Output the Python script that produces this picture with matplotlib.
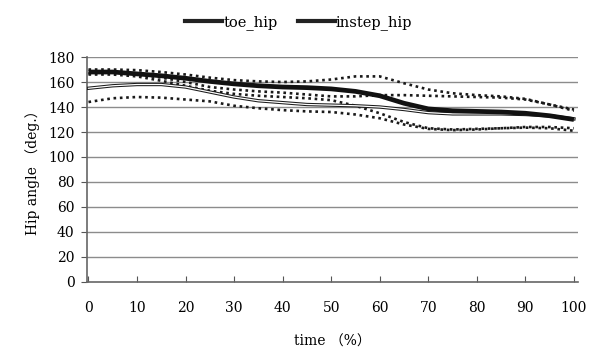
import matplotlib
matplotlib.use("Agg")
import matplotlib.pyplot as plt

# time (%) sampled every 5
time = [0, 5, 10, 15, 20, 25, 30, 35, 40, 45, 50, 55, 60, 65, 70, 75, 80, 85, 90, 95, 100]

# instep_hip mean and +/- SD (dotted)
instep_mean = [168, 168, 166.5, 165, 163, 160.5, 158.5, 157, 156, 155.5, 154.5, 152.5, 149,
               143, 138.5, 137, 136.5, 136, 135, 133, 130]
instep_upper = [170, 170, 169.5, 168, 166, 163.5, 161.5, 160.5, 160, 160.5, 162, 164.5, 164.5,
                159, 154, 151, 149.5, 148.5, 146.5, 142, 138]
instep_lower = [166, 166, 164.5, 161, 157, 153, 150.5, 149, 148, 147, 145.5, 141, 135,
                128, 123, 122, 122.5, 123, 123.5, 123, 121]

# toe_hip mean and +/- SD (dotted)
toe_mean = [155, 157, 158, 158, 156, 152, 148, 145, 143.5, 142, 141.5, 141, 140,
            138, 135.5, 134.5, 134.5, 134.5, 134, 133, 130.5]
toe_upper = [167, 167.5, 166, 163.5, 160, 156, 154, 152.5, 151.5, 150, 148.5, 148.5, 149.5,
             149.5, 149, 148.5, 148, 147.5, 146, 142, 137]
toe_lower = [144, 147, 148, 147.5, 146, 144.5, 141, 139, 137.5, 136.5, 136, 134, 131,
             126, 122.5, 121.5, 122, 123, 124, 124, 123]

yticks = list(range(0, 181, 20))
xticks = list(range(0, 101, 10))

plt.rcParams['font.family'] = ['DejaVu Serif', 'Noto Sans CJK JP']

fig = plt.figure(figsize=(5.92, 3.52), dpi=100)
ax = fig.add_axes([0.147, 0.199, 0.829, 0.639])

grid_col = '#8c8c8c'
for y in yticks[1:]:
    ax.axhline(y, color=grid_col, linewidth=1.0, zorder=1)

dot = dict(color='#1a1a1a', linewidth=1.9, linestyle=(0, (1, 1.4)), dash_capstyle='butt', zorder=3)
ax.plot(time, instep_upper, **dot)
ax.plot(time, instep_lower, **dot)
ax.plot(time, toe_upper, **dot)
ax.plot(time, toe_lower, **dot)

# toe_hip mean drawn as a double (outlined) line
ax.plot(time, toe_mean, color='#1a1a1a', linewidth=2.4, zorder=4)
ax.plot(time, toe_mean, color='white', linewidth=0.9, zorder=5)

ax.plot(time, instep_mean, color='#111111', linewidth=3.4, solid_capstyle='butt', zorder=6)

ax.set_xlim(-0.3, 100.8)
ax.set_ylim(0, 180)
ax.set_xticks(xticks)
ax.set_yticks(yticks)
ax.tick_params(axis='x', direction='in', length=4, color='#555555', labelsize=10, pad=14)
ax.tick_params(axis='y', direction='out', length=4, color='#555555', labelsize=10, pad=5)

for s in ['top', 'right']:
    ax.spines[s].set_visible(False)
for s in ['left', 'bottom']:
    ax.spines[s].set_color('#666666')
    ax.spines[s].set_linewidth(1.2)

ax.set_ylabel('Hip angle （deg.）', fontsize=10, labelpad=6)
ax.set_xlabel('time （%）', fontsize=10, labelpad=14)

h1, = ax.plot([], [], color='#222222', linewidth=3)
h2, = ax.plot([], [], color='#222222', linewidth=3)
fig.legend([h1, h2], ['toe_hip', 'instep_hip'], loc='upper center', bbox_to_anchor=(0.505, 0.995),
           ncol=2, frameon=False, fontsize=10.5, handlelength=2.5, handletextpad=0.1,
           columnspacing=1.4)

fig.savefig('out.png', dpi=100)
